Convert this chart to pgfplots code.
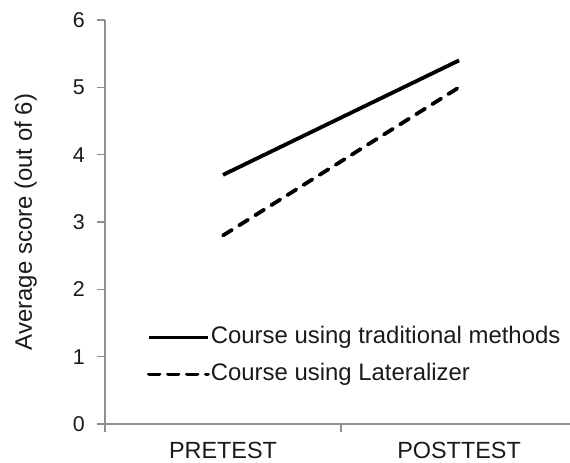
\documentclass[border=0pt]{standalone}
\usepackage{pgfplots}
\pgfplotsset{compat=1.18}
\usepackage{fontspec}
\setmainfont{Liberation Sans}
\definecolor{axgray}{HTML}{8F8F8F}
\definecolor{txt}{HTML}{1A1A1A}
\begin{document}
\begin{tikzpicture}
\begin{axis}[
  scale only axis,
  width=465bp, height=404bp,
  xmin=0, xmax=1.970, ymin=0, ymax=6,
  axis lines=left,
  axis line style={-, draw=axgray, line width=1.6bp},
  every tick/.style={draw=axgray, line width=1.6bp},
  tick align=outside,
  major tick length=8bp,
  ytick={0,1,2,3,4,5,6},
  xtick={0,1},
  xticklabels={},
  extra x ticks={0.5,1.5},
  extra x tick labels={PRETEST,POSTTEST},
  extra x tick style={major tick length=0pt, xticklabel style={font=\fontsize{23.5}{28}\selectfont, text=txt, inner sep=0pt, text height=17bp, text depth=0bp, yshift=-17bp}},
  /pgf/number format/assume math mode=true,
  yticklabel style={font=\fontsize{21.5}{25}\selectfont, text=txt, inner sep=0pt, xshift=-12bp},
  ylabel={Average score (out of 6)},
  ylabel style={at={(axis description cs:-0.146,0.5)}, anchor=south, rotate=0, inner sep=0pt, font=\fontsize{24}{28}\selectfont, text=txt},
  clip=false,
  legend cell align=left,
  legend image code/.code={\draw[#1] (0bp,0bp) -- (59bp,0bp);},
  legend style={draw=none, fill=none, at={(0.09,0.242)}, anchor=north west, inner sep=0pt,
    row sep=15bp, font=\fontsize{24}{28}\selectfont, text=txt,
    nodes={inner sep=0pt, inner xsep=1bp, text height=17bp, text depth=5bp}},
]
\addplot[black, line width=3.8bp] coordinates {(0.5,3.7) (1.5,5.4)};
\addlegendentry{Course using traditional methods}
\addplot[black, line width=3.8bp, dash pattern=on 10.5bp off 8.5bp, line cap=round] coordinates {(0.5,2.8) (1.5,5.0)};
\addlegendentry{Course using Lateralizer}
\end{axis}
\pgfresetboundingbox
\path (-105bp,-39bp) rectangle (465bp,424bp);
\end{tikzpicture}
\end{document}
